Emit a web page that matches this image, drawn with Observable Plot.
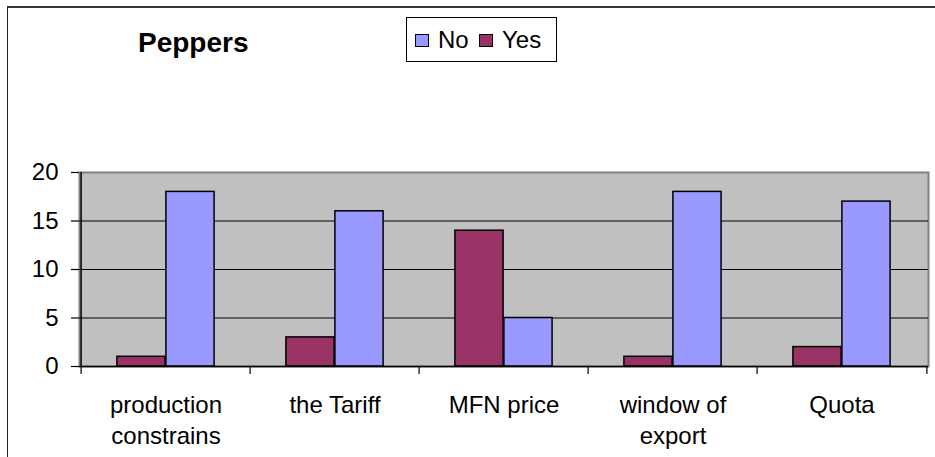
<!DOCTYPE html>
<html>
<head>
<meta charset="utf-8">
<script src="https://cdn.jsdelivr.net/npm/d3@7"></script>
<script src="https://cdn.jsdelivr.net/npm/@observablehq/plot@0.6"></script>
<style>
  html, body { margin: 0; padding: 0; background: #fff; overflow: hidden; }
  #wrap { position: relative; width: 935px; height: 457px; font-family: "Liberation Sans", Arial, sans-serif; }
  #border { position: absolute; left: 7px; top: 6px; width: 1200px; height: 1200px;
            border-left: 1.5px solid #222; border-top: 2px solid #333; pointer-events: none; }
  #title { position: absolute; left: 138px; top: 26px; font-size: 28px; font-weight: bold; line-height: 34px; }
  #legend { position: absolute; left: 406px; top: 17px; width: 149px; height: 43px; border: 1px solid #000;
            background: #fff; font-size: 24px; }
  .item { position: absolute; top: 8px; line-height: 28px; white-space: nowrap; }
  .sw { display: inline-block; width: 12px; height: 11px; border: 1px solid #000; vertical-align: middle;
        margin-right: 9px; position: relative; top: -1px; }
  #plot svg { position: absolute; left: 0; top: 0; }
</style>
</head>
<body>
<div id="wrap">
  <div id="plot"></div>
  <div id="border"></div>
  <div id="title"></div>
  <div id="legend"></div>
</div>
<script>
const title = "Peppers";
const categories = ["production constrains", "the Tariff", "MFN price", "window of export", "Quota"];
const categoryLabels = ["production\nconstrains", "the Tariff", "MFN price", "window of\nexport", "Quota"];
const yesValues = [1, 3, 14, 1, 2];
const noValues = [18, 16, 5, 18, 17];
const seriesNames = ["No", "Yes"];
const seriesColors = ["#9999FF", "#993366"];
const yTicks = [0, 5, 10, 15, 20];

const W = 935, H = 457;
const mL = 79, mR = 7, mT = 172, mB = 91;
const bw = (W - mL - mR) / categories.length;
const group = bw * 0.577;
const outer = (bw - group) / 2;
const half = group / 2;

const yesData = categories.map((c, i) => ({cat: c, v: yesValues[i]}));
const noData = categories.map((c, i) => ({cat: c, v: noValues[i]}));

const plot = Plot.plot({
  width: W,
  height: H,
  marginLeft: mL,
  marginRight: mR,
  marginTop: mT,
  marginBottom: mB,
  style: {fontFamily: "'Liberation Sans', Arial, sans-serif", fontSize: "24px", color: "#000", background: "transparent", overflow: "visible"},
  x: {domain: categories, padding: 0, axis: null, label: null},
  y: {domain: [0, 20], axis: null, label: null},
  marks: [
    Plot.frame({fill: "#C0C0C0", stroke: "#808080", strokeWidth: 2}),
    Plot.ruleY(yTicks.filter(t => t > 0 && t < 20), {stroke: "#000", strokeWidth: 1}),
    Plot.barY(yesData, {x: "cat", y: "v", fill: seriesColors[1], stroke: "#000", strokeWidth: 1.5,
      insetLeft: outer, insetRight: outer + half}),
    Plot.barY(noData, {x: "cat", y: "v", fill: seriesColors[0], stroke: "#000", strokeWidth: 1.5,
      insetLeft: outer + half, insetRight: outer}),
    Plot.ruleY([0], {stroke: "#000", strokeWidth: 1.5}),
    Plot.ruleX([categories[0]], {y1: 0, y2: 20, dx: -bw / 2, stroke: "#000", strokeWidth: 1.5}),
    Plot.axisX({tickSize: 8, tickFormat: () => "", label: null, dx: -bw / 2, stroke: "#000", strokeWidth: 1.2}),
    Plot.axisX([categories[categories.length - 1]], {tickSize: 8, tickFormat: () => "", label: null, dx: bw / 2, stroke: "#000", strokeWidth: 1.2}),
    Plot.axisY({ticks: yTicks, tickSize: 8, tickPadding: 13, label: null, fontSize: 24, stroke: "#000", strokeWidth: 1.2}),
    Plot.text(categories, {x: d => d, text: (d, i) => categoryLabels[i], frameAnchor: "bottom",
      lineAnchor: "top", dy: 24, lineHeight: 1.3, fontSize: 24, fill: "#000"})
  ]
});
document.getElementById("plot").appendChild(plot);

document.getElementById("title").textContent = title;
const legend = document.getElementById("legend");
const itemLefts = [8, 72];
seriesNames.forEach((name, i) => {
  const item = document.createElement("div");
  item.className = "item";
  item.style.left = itemLefts[i] + "px";
  const sw = document.createElement("span");
  sw.className = "sw";
  sw.style.background = seriesColors[i];
  item.appendChild(sw);
  item.appendChild(document.createTextNode(name));
  legend.appendChild(item);
});
</script>
</body>
</html>
